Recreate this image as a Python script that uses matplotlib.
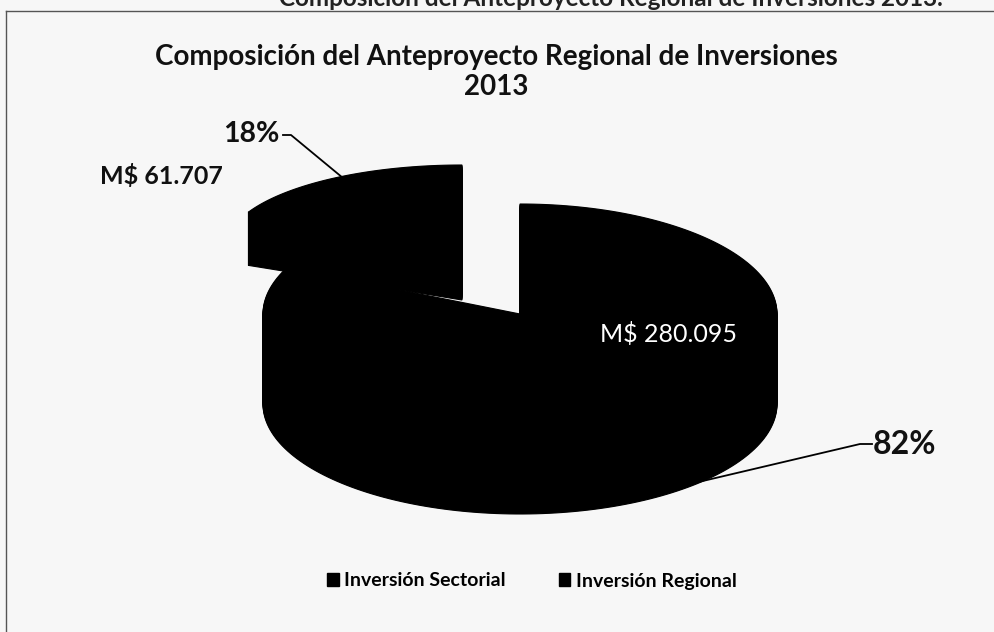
#composicion del anteproyecto regional, 3d pie drawn by hand (scan look)
import numpy as np
import matplotlib.pyplot as plt
from matplotlib.patches import Polygon, Patch

labels = ['Inversión Sectorial', 'Inversión Regional']
values = [280095, 61707]
amount_labels = ['M$ 280.095', 'M$ 61.707']
pct_labels = ['82%', '18%']
title = 'Composición del Anteproyecto Regional de Inversiones\n2013'
clipped_head = 'Composición del Anteproyecto Regional de Inversiones 2013.'

plt.rcParams['font.family'] = ['Lato', 'DejaVu Sans']

def slice_3d(ax, start, end, cx, cy, rx, ry, depth):
    #silhouette of the wedge: top face plus extruded copies, one per pixel
    t = np.radians(np.linspace(start, end, 200))
    x = np.r_[cx, cx + rx*np.cos(t)]
    y = np.r_[cy, cy - ry*np.sin(t)]
    for k in np.arange(0, depth + 1):
        ax.add_patch(Polygon(np.c_[x, y + k], closed=True, fc='black', ec='black', lw=0.8))

fig = plt.figure(figsize=(9.95, 6.32), dpi=100, facecolor='#f7f7f7')
ax = fig.add_axes([0, 0, 1, 1])
ax.set_xlim(0, 995)
ax.set_ylim(632, 0)
ax.axis('off')

#frame of the chart, bottom runs off the scan
ax.plot([6, 6], [632, 11], color='#555555', lw=1)
ax.plot([6, 995], [11, 11], color='#555555', lw=1)

ax.text(611, 6, clipped_head, ha='center', va='baseline', fontsize=17.5, fontweight='bold', color='#222222')
ax.text(496, 72, title, ha='center', va='center', fontsize=20, fontweight='bold', linespacing=1.2, color='#111111')

#angles follow the shares, regional slice ends at twelve o'clock
share = values[1] / sum(values) * 360
slice_3d(ax, 90, 90 + share, 462, 247, 236, 82, 53)
slice_3d(ax, 90 + share, 450, 520, 314, 257, 110, 90)

ax.plot([283, 291, 343], [135, 135, 178], color='black', lw=1.3)
ax.plot([872, 860, 690], [444, 444, 484], color='black', lw=1.3)

ax.text(251, 134, pct_labels[1], ha='center', va='center', fontsize=20.5, fontweight='bold', color='#111111')
ax.text(161, 176, amount_labels[1], ha='center', va='center', fontsize=18, fontweight='bold', color='#111111')
ax.text(669, 334, amount_labels[0], ha='center', va='center', fontsize=18, color='white')
ax.text(905, 445, pct_labels[0], ha='center', va='center', fontsize=23, fontweight='bold', color='#111111')

handles = [Patch(fc='black', ec='black', label=l) for l in labels]
ax.legend(handles=handles, ncol=2, frameon=False, loc='center', bbox_to_anchor=(532/995, 1 - 581/632),
          prop={'size': 14, 'weight': 'bold'}, handlelength=0.6, handleheight=0.6, handletextpad=0.3, columnspacing=2.7)

fig.savefig('out.png', dpi=100, facecolor=fig.get_facecolor())
